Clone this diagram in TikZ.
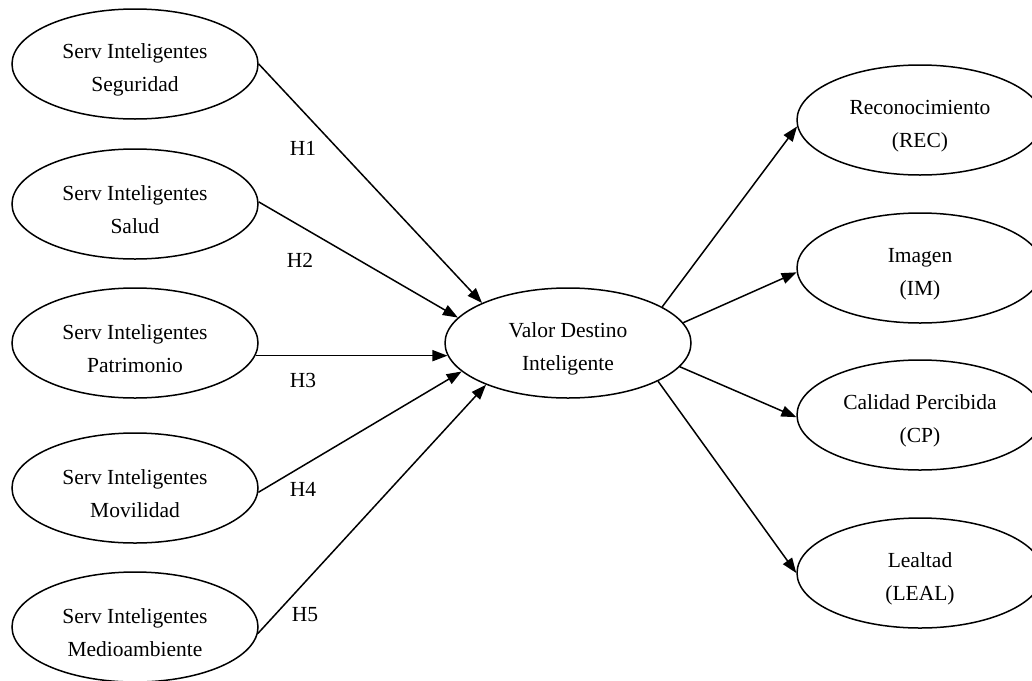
\documentclass[tikz,border=0pt]{standalone}
\usepackage{fontspec}
\setmainfont{Liberation Serif}
\usetikzlibrary{shapes.geometric,arrows.meta}
\newcommand\ctext[2]{\rule{0pt}{27pt}#1\\#2}
\tikzset{
  construct/.style={draw, ellipse, line width=1.5pt, minimum width=246pt, minimum height=110pt, inner sep=0pt, align=center, font=\fontsize{21.5}{33}\selectfont},
  link/.style={line width=1.5pt, -{Triangle[length=15pt,width=11pt]}},
  hlabel/.style={font=\fontsize{21.5}{24}\selectfont, inner sep=0pt}
}
\begin{document}
\begin{tikzpicture}[x=1pt,y=-1pt]
\clip (0,0) rectangle (1032,680);
\fill[white] (0,0) rectangle (1032,680);
% left constructs
\node[construct] (s1) at (135,64) {\ctext{Serv Inteligentes}{Seguridad}};
\node[construct] (s2) at (135,204) {\ctext{Serv Inteligentes}{Salud}};
\node[construct] (s3) at (135,343) {\ctext{Serv Inteligentes}{Patrimonio}};
\node[construct] (s4) at (135,488) {\ctext{Serv Inteligentes}{Movilidad}};
\node[construct] (s5) at (135,627) {\ctext{Serv Inteligentes}{Medioambiente}};
% centre
\node[construct] (c) at (568,343) {\ctext{Valor Destino}{Inteligente}};
% right constructs
\node[construct] (rec) at (920,120) {\ctext{Reconocimiento}{(REC)}};
\node[construct] (im) at (920,268) {\ctext{Imagen}{(IM)}};
\node[construct] (cp) at (920,415) {\ctext{Calidad Percibida}{(CP)}};
\node[construct] (leal) at (920,573) {\ctext{Lealtad}{(LEAL)}};
% incoming
\draw[link] (s1.east) -- (c.155.5);
\draw[link] (s2.1) -- (c.167.5);
\draw[link] (s3.-6.5) -- (c.186.5);
\draw[link] (s4.-2.8) -- (c.195.8);
\draw[link] (s5.-3.7) -- (c.207);
% outgoing
\draw[link] (c.21) -- (rec.183);
\draw[link] (c.10) -- (im.182);
\draw[link] (c.-12.8) -- (cp.181);
\draw[link] (c.-23.7) -- (leal.180);
% labels
\node[hlabel] (h1) at (303,148) {H1};
\node[hlabel] (h2) at (300,260) {H2};
\node[hlabel] (h3) at (303,380) {H3};
\node[hlabel] (h4) at (303,489) {H4};
\node[hlabel] (h5) at (305,615) {H5};
\end{tikzpicture}
\end{document}
